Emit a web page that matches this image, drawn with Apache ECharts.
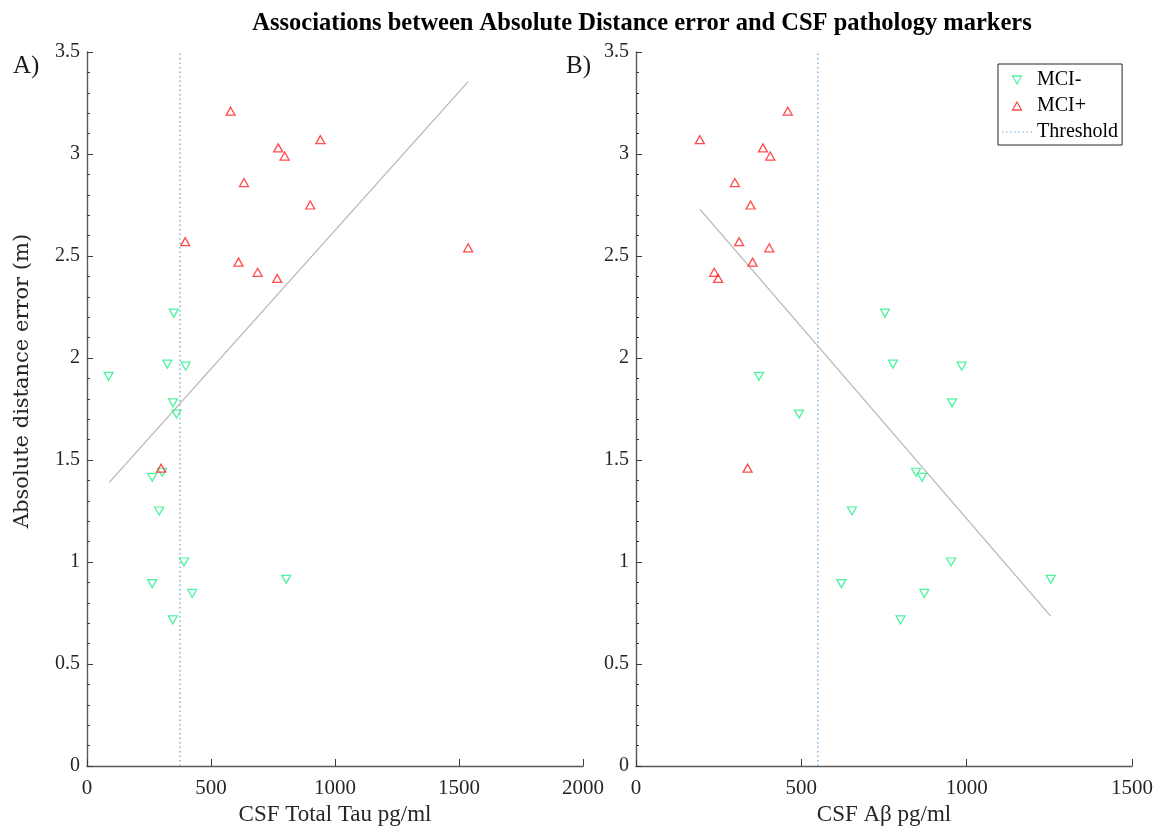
<!DOCTYPE html>
<html>
<head>
<meta charset="utf-8">
<script src="https://cdn.jsdelivr.net/npm/echarts@6/dist/echarts.min.js"></script>
<style>
  html, body { margin: 0; padding: 0; background: #ffffff; }
  #chart { width: 1162px; height: 837px; }
</style>
</head>
<body>
<div id="chart"></div>
<script>
// Absolute distance error (m) and CSF markers (pg/ml), one entry per subject
const errNeg = [2.22, 1.97, 1.96, 1.91, 1.78, 1.725, 1.44, 1.415, 1.25, 1.0, 0.915, 0.894, 0.846, 0.716];
const tauNeg = [350, 324, 398, 87, 347, 361, 303, 263, 291, 391, 803, 263, 424, 346];
const abNeg  = [753, 777, 985, 372, 956, 493, 847, 865, 653, 953, 1254, 621, 872, 800];

const errPos = [3.21, 3.07, 3.03, 2.99, 2.86, 2.75, 2.57, 2.54, 2.47, 2.42, 2.39, 1.46];
const tauPos = [579, 941, 771, 797, 633, 900, 396, 1537, 611, 688, 767, 299];
const abPos  = [459, 193, 384, 406, 299, 346.5, 312, 403, 352.5, 236.5, 248.5, 337.5];

// Positivity cut-offs
const tauThreshold = 375;
const abThreshold = 550;

// Least-squares fit end points [x, y]
const tauFit = [[90, 1.39], [1537, 3.355]];
const abFit  = [[193, 2.73], [1254, 0.735]];

// Axis ranges
const yMax = 3.5;
const tauMax = 2000;
const abMax = 1500;

const SERIF = '"Liberation Serif", "Times New Roman", serif';
const GREEN = '#24f08a';
const RED = '#ff1f1f';
const THRESH = '#6a9fd8';
const FIT = '#b8b8b8';

const TRI_DOWN = 'path://M0,0L10,0L5,9Z';
const TRI_UP = 'path://M5,0L10,9L0,9Z';
// a row of small dots drawn as one path, used as the dotted-line legend key
const DOTS = 'path://' + Array.from({ length: 8 }, (_, i) => {
  const x = i * 4;
  return 'M' + x + ',0h1.4v1.2h-1.4Z';
}).join('');

const zip = (xs, ys) => xs.map((x, i) => [x, ys[i]]);

function xAxisFor(max, name, index) {
  return {
    type: 'value', gridIndex: index, min: 0, max: max, interval: 500,
    name: name, nameLocation: 'middle', nameGap: 36,
    nameTextStyle: { fontFamily: SERIF, fontSize: 23, color: '#262626' },
    axisLine: { show: true, lineStyle: { color: '#5a5a5a', width: 1.4 } },
    axisTick: { show: true, inside: true, length: 7, lineStyle: { color: '#3a3a3a', width: 1 } },
    axisLabel: { fontFamily: SERIF, fontSize: 21, color: '#262626', margin: 12,
                 formatter: (v) => String(v) },
    splitLine: { show: false }
  };
}

function yAxisFor(index) {
  return {
    type: 'value', gridIndex: index, min: 0, max: yMax, interval: 0.5,
    axisLine: { show: true, lineStyle: { color: '#5a5a5a', width: 1.4 } },
    axisTick: { show: true, inside: true, length: 6, lineStyle: { color: '#3a3a3a', width: 1 } },
    minorTick: { show: true, splitNumber: 5, length: 3, lineStyle: { color: '#3a3a3a', width: 1 } },
    axisLabel: { fontFamily: SERIF, fontSize: 20, color: '#262626', margin: 7 },
    splitLine: { show: false }
  };
}

function markerSeries(name, data, index, color, rotate) {
  return {
    name: name, type: 'scatter', xAxisIndex: index, yAxisIndex: index,
    data: data, symbol: 'triangle', symbolRotate: rotate, symbolSize: [9, 8],
    itemStyle: { color: 'rgba(255,255,255,0)', borderColor: color, borderWidth: 1.3 },
    z: 5
  };
}

function thresholdSeries(x, index) {
  return {
    name: 'Threshold', type: 'line', xAxisIndex: index, yAxisIndex: index,
    data: [[x, 0], [x, yMax]], symbol: 'none', silent: true,
    lineStyle: { color: THRESH, width: 1.2, type: [1.5, 3] },
    itemStyle: { color: THRESH },
    z: 2
  };
}

function fitSeries(points, index) {
  return {
    name: 'fit' + index, type: 'line', xAxisIndex: index, yAxisIndex: index,
    data: points, symbol: 'none', silent: true,
    lineStyle: { color: FIT, width: 1.3 },
    z: 3
  };
}

const chart = echarts.init(document.getElementById('chart'), null, { renderer: 'canvas' });

chart.setOption({
  backgroundColor: '#ffffff',
  animation: false,
  title: {
    text: 'Associations between Absolute Distance error and CSF pathology markers',
    left: 637, top: 6, textAlign: 'center',
    textStyle: { fontFamily: SERIF, fontSize: 24.5, fontWeight: 'bold', color: '#000000' }
  },
  legend: {
    orient: 'vertical', left: 998, top: 64,
    padding: [6, 4, 3, 4], itemGap: 6, itemWidth: 30, itemHeight: 8,
    symbolKeepAspect: true,
    backgroundColor: '#ffffff', borderColor: '#262626', borderWidth: 1,
    textStyle: { fontFamily: SERIF, fontSize: 20, color: '#000000' },
    data: [
      { name: 'MCI-', icon: TRI_DOWN,
        itemStyle: { color: 'rgba(255,255,255,0)', borderColor: GREEN, borderWidth: 1.3 } },
      { name: 'MCI+', icon: TRI_UP,
        itemStyle: { color: 'rgba(255,255,255,0)', borderColor: RED, borderWidth: 1.3 } },
      { name: 'Threshold', icon: DOTS,
        itemStyle: { color: THRESH, borderWidth: 0 } }
    ]
  },
  grid: [
    { left: 87, top: 52, width: 496, height: 714 },
    { left: 636, top: 52, width: 496, height: 714 }
  ],
  xAxis: [
    xAxisFor(tauMax, 'CSF Total Tau pg/ml', 0),
    xAxisFor(abMax, 'CSF A\u03B2 pg/ml', 1)
  ],
  yAxis: [yAxisFor(0), yAxisFor(1)],
  graphic: [
    { type: 'text', left: 13, top: 54, style: { text: 'A)', fontFamily: SERIF, fontSize: 25, fill: '#1a1a1a' } },
    { type: 'text', left: 566, top: 54, style: { text: 'B)', fontFamily: SERIF, fontSize: 25, fill: '#1a1a1a' } },
    { type: 'text', x: 23, y: 381, rotation: Math.PI / 2,
      style: { text: 'Absolute distance error (m)', fontFamily: '"DejaVu Serif", serif', fontSize: 21,
               fill: '#262626', align: 'center', verticalAlign: 'middle' } }
  ],
  series: [
    thresholdSeries(tauThreshold, 0),
    fitSeries(tauFit, 0),
    markerSeries('MCI-', zip(tauNeg, errNeg), 0, GREEN, 180),
    markerSeries('MCI+', zip(tauPos, errPos), 0, RED, 0),
    thresholdSeries(abThreshold, 1),
    fitSeries(abFit, 1),
    markerSeries('MCI-', zip(abNeg, errNeg), 1, GREEN, 180),
    markerSeries('MCI+', zip(abPos, errPos), 1, RED, 0)
  ]
});
</script>
</body>
</html>
